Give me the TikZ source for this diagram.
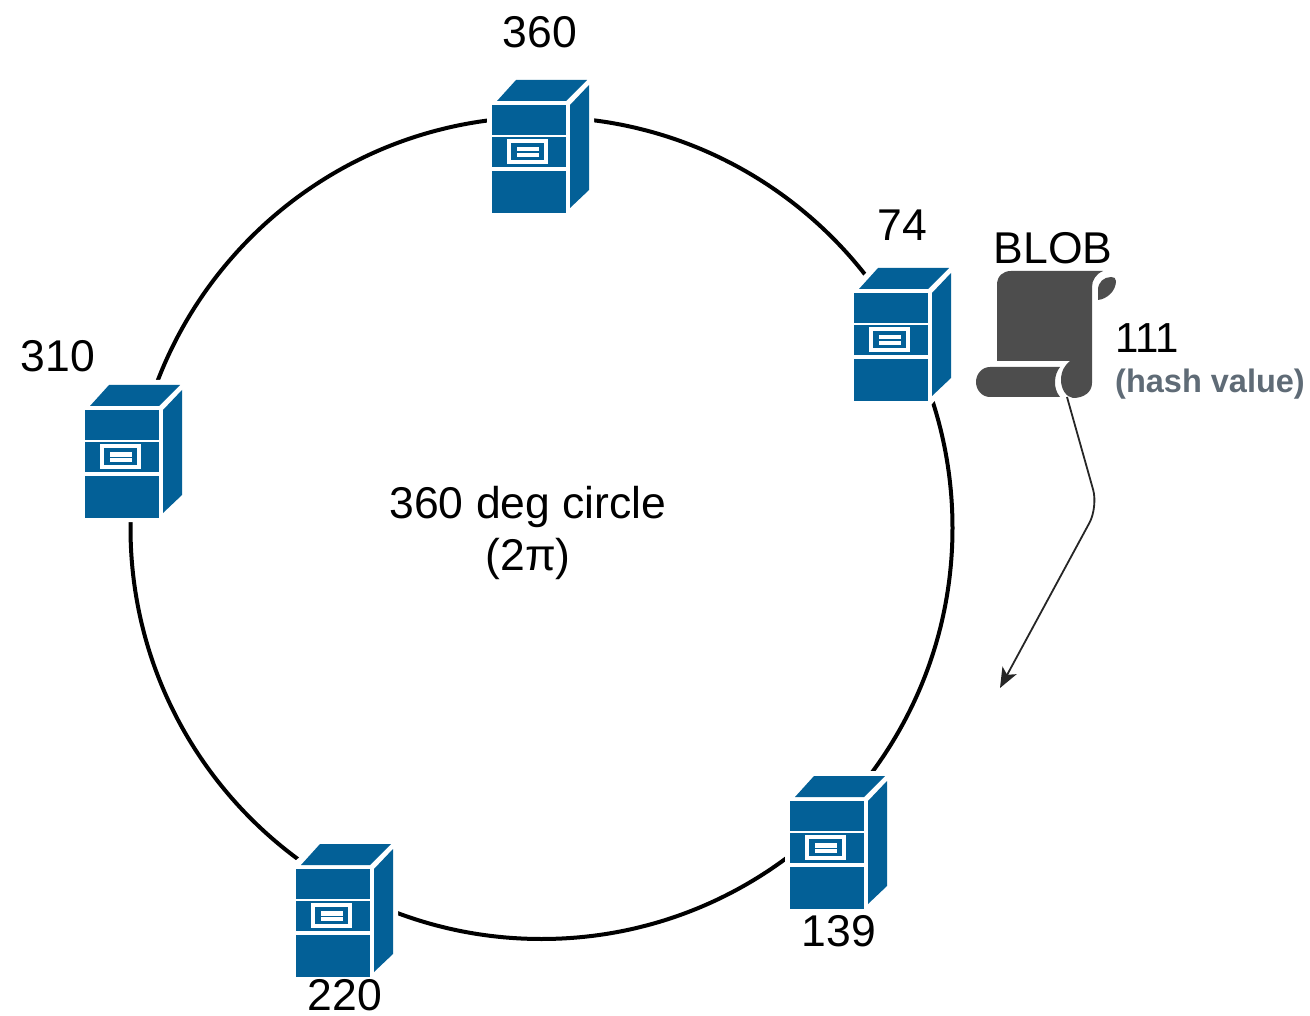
\documentclass[tikz,border=0pt]{standalone}
\usepackage{fontspec}
\setmainfont{Liberation Sans}
\usepackage{tikz}
\usetikzlibrary{arrows.meta}
\usetikzlibrary{positioning}

\definecolor{serverblue}{HTML}{036097}
\definecolor{scrollgrey}{HTML}{4D4D4D}
\definecolor{hashgrey}{HTML}{5F6B76}

\tikzset{
	tag/.style={font=\fontsize{44.5}{52}\selectfont,inner sep=0pt,text=black},
	hashtag/.style={font=\fontsize{32.5}{38}\selectfont\bfseries,inner sep=0pt,text=hashgrey},
	server/.pic={
		\fill[white] (-5,-3) -- (23,-29) -- (102,-29) -- (102,85) -- (77,113) -- (-5,113) -- cycle;
		\fill[serverblue] (0,1) rectangle (74,31);
		\fill[serverblue] (0,33) rectangle (74,63);
		\fill[serverblue] (0,67) rectangle (74,109);
		\fill[serverblue] (5,-3) -- (74,-3) -- (95,-24) -- (24,-24) -- cycle;
		\fill[serverblue] (78,1) -- (97,-19) -- (97,86) -- (78,104) -- cycle;
		\fill[white] (15,35) rectangle (56,60);
		\fill[serverblue] (19,39) rectangle (52,56);
		\fill[white] (25,43) rectangle (47,47.5);
		\fill[white] (25,49) rectangle (47,53);
		\node[inner sep=0pt,minimum width=97pt,minimum height=133pt] (-box) at (48.5,42.5) {};
	}
}

\begin{document}
\begin{tikzpicture}[x=1pt,y=-1pt,>=Stealth]
\useasboundingbox (0,0) rectangle (1310,1016);

\node[draw=black,line width=4pt,circle,minimum size=822pt,inner sep=0pt] (ring) at (541.5,528) {};

\pic (srv360) at (492,104) {server};
\pic (srv74) at (854,292) {server};
\pic (srv139) at (790,800) {server};
\pic (srv220) at (296,868) {server};
\pic (srv310) at (85,409) {server};

\node[tag] (lbl360) at (540,32) {360};
\node[tag] (lbl74) at (902,225) {74};
\node[tag] (lbl139) at (839,931) {139};
\node[tag] (lbl220) at (345,995) {220};
\node[tag] (lbl310) at (58,356) {310};
\node[tag,align=center] (lblring) at (528,533) {360 deg circle\\(2π)};

% scroll
\fill[scrollgrey] (997,361) -- (997,285) .. controls (997,276) and (1003,271) .. (1011,271) -- (1103,271)
	.. controls (1096,274) and (1092,280) .. (1092,287) -- (1092,383)
	.. controls (1092,392) and (1084,398) .. (1073,398)
	.. controls (1066,397) and (1061,389) .. (1061,380)
	.. controls (1061,371) and (1065,365) .. (1070,361) -- cycle;
\fill[scrollgrey] (1060,367) -- (990,367) .. controls (982,367) and (976,374) .. (976,382)
	.. controls (976,390) and (982,397) .. (990,397) -- (1060,397)
	.. controls (1056,392) and (1055,387) .. (1055,382)
	.. controls (1055,376) and (1057,371) .. (1060,367) -- cycle;
\fill[scrollgrey] (1098,300) -- (1098,290) .. controls (1098,282) and (1104,277) .. (1111,277)
	.. controls (1114,277) and (1116,278) .. (1116,281)
	.. controls (1116,291) and (1107,299) .. (1098,300) -- cycle;
\node[inner sep=0pt,minimum width=140pt,minimum height=127pt] (scroll) at (1046,334.5) {};

\node[tag] (lblblob) at (1053,248) {BLOB};
\node[tag,font=\fontsize{42}{50}\selectfont,anchor=west] (lblhash) at (1115,338) {111};
\node[hashtag,below=16pt of lblhash.south west,anchor=north west] (lblkind) {(hash value)};

\coordinate (blobtail) at (1067,397);
\coordinate (hashtip) at (1000,688);
\draw[->,line width=1.8pt,rounded corners=18pt,>={Stealth[length=20pt,width=16pt,inset=5pt]},draw=black!85] (blobtail) -- (1098,507) -- (hashtip);
\end{tikzpicture}
\end{document}
